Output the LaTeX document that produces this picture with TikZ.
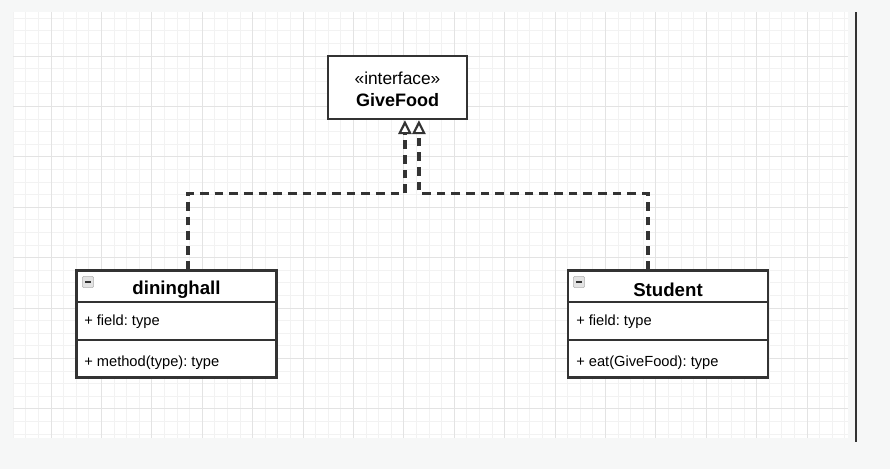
\documentclass[tikz,border=0pt]{standalone}
\usepackage{fontspec}
\setmainfont{Liberation Sans}
\usetikzlibrary{arrows.meta}
\frenchspacing

\definecolor{umlline}{HTML}{333333}
\definecolor{gridminor}{HTML}{F2F2F2}
\definecolor{gridmajor}{HTML}{E3E3E3}
\definecolor{canvasbg}{HTML}{F6F7F7}

\begin{document}
\begin{tikzpicture}[x=0.75pt, y=-0.75pt,
  box/.style={rectangle, draw=umlline, line width=1.8pt, fill=white, inner sep=0pt},
  classname/.style={font=\fontsize{14}{16}\selectfont\bfseries, inner sep=0pt},
  member/.style={font=\fontsize{11}{13}\selectfont, anchor=west, inner sep=0pt},
  divider/.style={draw=umlline, line width=1.8pt},
  toggle/.style={rectangle, rounded corners=1pt, draw=gray!60, fill=gray!22, minimum size=8.5pt, inner sep=0pt,
    path picture={\draw[umlline, line width=1.1pt] ([xshift=2pt]path picture bounding box.west) -- ([xshift=-2pt]path picture bounding box.east);}},
  realize/.style={draw=umlline, line width=2.4pt, dash pattern=on 6.5pt off 4.5pt,
    -{Triangle[fill=white, length=10.5pt, width=10pt, line width=1.6pt]}}]

% sfondo e griglia
\fill[canvasbg] (0,0) rectangle (890,469);
\fill[white] (13,12) rectangle (848,438);
\foreach \k in {-3,...,63} \draw[gridminor, line width=0.6pt] ({51+12.6*\k},12) -- ({51+12.6*\k},438);
\foreach \k in {-3,...,30} \draw[gridminor, line width=0.6pt] (13,{56+12.6*\k}) -- (848,{56+12.6*\k});
\foreach \k in {0,...,15} \draw[gridmajor, line width=0.6pt] ({51+50.4*\k},12) -- ({51+50.4*\k},438);
\foreach \k in {0,...,7} \draw[gridmajor, line width=0.6pt] (13,{56+50.4*\k}) -- (848,{56+50.4*\k});
\draw[umlline, line width=1.5pt] (856,12) -- (856,442);

% interfaccia
\node[box, minimum width=104.25pt, minimum height=47.25pt] (gf) at (397.5,87.5) {};
\node[font=\fontsize{13}{15}\selectfont, inner sep=0pt] (gfstereo) at (397.5,78) {«interface»};
\node[classname, font=\fontsize{13.5}{15}\selectfont\bfseries] (gfname) at (397.5,100) {GiveFood};

% classi
\node[box, minimum width=150pt, minimum height=80.25pt] (dh) at (176.5,324) {};
\node[box, minimum width=150pt, minimum height=80.25pt] (st) at (668,324) {};

\draw[divider] ([yshift=-24.4pt]dh.north west) -- ([yshift=-24.4pt]dh.north east);
\draw[divider] ([yshift=-52.9pt]dh.north west) -- ([yshift=-52.9pt]dh.north east);
\draw[divider] ([yshift=-24.4pt]st.north west) -- ([yshift=-24.4pt]st.north east);
\draw[divider] ([yshift=-52.9pt]st.north west) -- ([yshift=-52.9pt]st.north east);

\node[toggle] (dhtoggle) at (88,282) {};
\node[toggle] (sttoggle) at (579,282) {};

\node[classname] (dhname) at (176.5,290) {dininghall};
\node[member] (dhfield) at (84,322) {+ field: type};
\node[member] (dhmethod) at (84,363) {+ method(type): type};

\node[classname] (stname) at (668,290) {Student};
\node[member] (stfield) at (576,322) {+ field: type};
\node[member] (stmethod) at (576,363) {+ eat(GiveFood): type};

% Archi
\draw[realize] ([xshift=8.6pt]dh.north) -- ++(0,-76) -| ([xshift=5.6pt]gf.south);
\draw[realize] ([xshift=-15pt]st.north) -- ++(0,-76) -| ([xshift=16.1pt]gf.south);

\end{tikzpicture}
\end{document}
